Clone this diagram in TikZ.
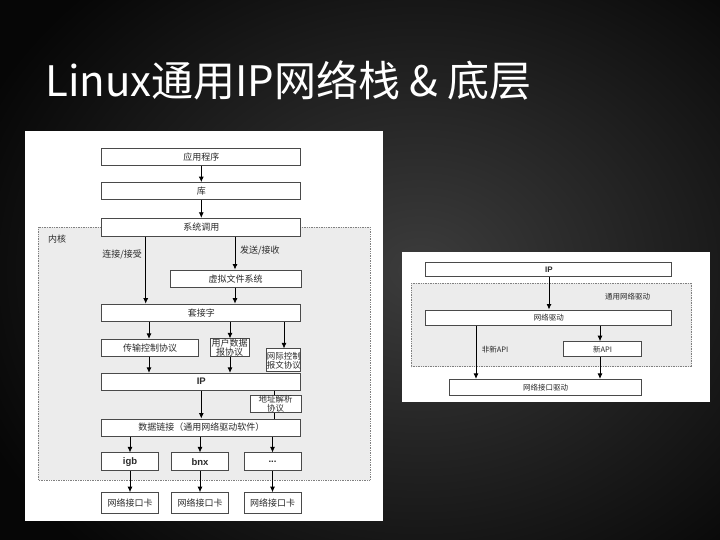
\documentclass[tikz,border=0pt]{standalone}
\usepackage{fontspec}
\setmainfont{Noto Sans CJK SC}
\newfontfamily\latinfont{Liberation Sans}
\usepackage{xcolor}
\usetikzlibrary{arrows.meta}
\definecolor{bgin}{HTML}{3C3C3C}
\definecolor{bgout}{HTML}{060606}
\definecolor{boxline}{HTML}{4A4A4A}
\definecolor{kernfill}{HTML}{ECECEC}
\definecolor{txt}{HTML}{2A2A2A}
\tikzset{
  box/.style={draw=boxline, fill=white, line width=1pt, inner sep=0pt, text=txt,
    align=center, font=\fontsize{9}{9}\selectfont},
  latinbox/.style={box, font=\latinfont\bfseries\fontsize{9.5}{9.5}\selectfont},
  arr/.style={-{Latex[length=5.5pt,width=5pt]}, line width=0.8pt},
  lbl/.style={text=txt, inner sep=0pt, font=\fontsize{9}{9}\selectfont},
  region/.style={draw=gray, densely dotted, fill=kernfill, line width=0.7pt}
}
\begin{document}
\begin{tikzpicture}[x=1pt,y=-1pt]
\useasboundingbox (0,0) rectangle (720,540);
\begin{scope}
\clip (0,0) rectangle (720,540);
\shade[inner color=bgin, outer color=bgout] (-60,-120) rectangle (900,660);
\end{scope}
\node[anchor=base west, text=white, inner sep=0pt, font=\fontsize{42}{42}\selectfont] (title) at (45,97) {Linux通用IP网络栈 \& 底层};

% left panel
\fill[white] (25,131) rectangle (383,521);
\draw[region] (38.3,227.3) rectangle (370,480);
\node[lbl, anchor=west] (kernel) at (48,239) {内核};

\node[box, minimum width=199.3, minimum height=16.7] (app) at (201.3,156.7) {应用程序};
\node[box, minimum width=199.3, minimum height=17.3] (lib) at (201.3,191.3) {库};
\node[box, minimum width=199.3, minimum height=17.7] (syscall) at (201.3,227.2) {系统调用};
\node[box, minimum width=131, minimum height=17.3] (vfs) at (235.5,278.7) {虚拟文件系统};
\node[box, minimum width=199.3, minimum height=17.7] (sock) at (201.3,313) {套接字};
\node[box, minimum width=96.6, minimum height=16.7] (tcp) at (150,347.7) {传输控制协议};
\node[box, minimum width=39, minimum height=16.7, font=\fontsize{9}{7.5}\selectfont] (udp) at (229.5,347.7) {用户数据\\报协议};
\node[box, minimum width=34.3, minimum height=22.7, font=\fontsize{8.5}{9}\selectfont] (icmp) at (283.8,360.3) {网际控制\\报文协议};
\node[latinbox, minimum width=199.3, minimum height=16.7] (ip) at (201.3,381.7) {IP};
\node[box, minimum width=51, minimum height=15.7, font=\fontsize{8.5}{7.5}\selectfont] (arp) at (275.5,403.8) {地址解析\\协议};
\node[box, minimum width=199.3, minimum height=17] (link) at (201.3,427.5) {数据链接（通用网络驱动软件）};
\node[latinbox, minimum width=56.6, minimum height=17.7] (igb) at (130,461.8) {igb};
\node[latinbox, minimum width=56.6, minimum height=17.7] (bnx) at (200,461.8) {bnx};
\node[latinbox, minimum width=57, minimum height=17.7] (etc) at (272.5,461.8) {...};
\node[box, minimum width=56.6, minimum height=20.6] (nicA) at (130,503) {网络接口卡};
\node[box, minimum width=56.6, minimum height=20.6] (nicB) at (200,503) {网络接口卡};
\node[box, minimum width=57, minimum height=20.6] (nicC) at (272.5,503) {网络接口卡};

\coordinate (cConn) at (145.7,0);
\coordinate (cSend) at (235,0);
\coordinate (cTcp) at (149,0);
\coordinate (cUdp) at (230,0);
\coordinate (cIcmp) at (284,0);
\coordinate (cArp) at (274.3,0);

\draw[arr] (app) -- (lib);
\draw[arr] (lib) -- (syscall);
\draw[arr] (syscall.south -| cConn) -- (sock.north -| cConn);
\draw[arr] (syscall.south -| cSend) -- (vfs.north -| cSend);
\draw[arr] (vfs.south -| cSend) -- (sock.north -| cSend);
\node[lbl, anchor=east] (connlbl) at (142,255) {连接/接受};
\node[lbl, anchor=west] (sendlbl) at (240,250.7) {发送/接收};
\draw[arr] (sock.south -| cTcp) -- (tcp.north -| cTcp);
\draw[arr] (sock.south -| cUdp) -- (udp.north -| cUdp);
\draw[arr] (sock.south -| cIcmp) -- (icmp.north -| cIcmp);
\draw[arr] (tcp.south -| cTcp) -- (ip.north -| cTcp);
\draw[arr] (udp.south -| cUdp) -- (ip.north -| cUdp);
\draw[arr] (ip) -- (link);
\draw[line width=0.8pt] (ip.south -| cArp) -- (arp.north -| cArp);
\draw[line width=0.8pt] (arp.south -| cArp) -- (link.north -| cArp);
\draw[arr] (link.south -| igb) -- (igb);
\draw[arr] (link.south -| bnx) -- (bnx);
\draw[arr] (link.south -| etc) -- (etc);
\draw[arr] (igb) -- (nicA);
\draw[arr] (bnx) -- (nicB);
\draw[arr] (etc) -- (nicC);

% right panel
\fill[white] (402,252) rectangle (710,402);
\draw[region] (411,283.3) rectangle (691.7,366.7);
\node[lbl, anchor=west, font=\fontsize{7.5}{7.5}\selectfont] (gendrv) at (605,296.7) {通用网络驱动};
\node[latinbox, minimum width=245.7, minimum height=14.4, font=\latinfont\bfseries\fontsize{8}{8}\selectfont] (ipR) at (548.8,269.5) {IP};
\node[box, minimum width=245.7, minimum height=15, font=\fontsize{7.5}{7.5}\selectfont] (drv) at (548.8,317.5) {网络驱动};
\node[box, minimum width=78.4, minimum height=15, font=\fontsize{7.5}{7.5}\selectfont] (newapi) at (602.5,349.2) {新API};
\node[box, minimum width=192.4, minimum height=15.7, font=\fontsize{7.5}{7.5}\selectfont] (ifdrv) at (545.5,387.2) {网络接口驱动};
\coordinate (cOld) at (476,0);
\coordinate (cNew) at (600,0);
\coordinate (cIpR) at (549,0);
\draw[arr] (ipR.south -| cIpR) -- (drv.north -| cIpR);
\draw[arr] (drv.south -| cNew) -- (newapi.north -| cNew);
\draw[arr] (newapi.south -| cNew) -- (ifdrv.north -| cNew);
\draw[arr] (drv.south -| cOld) -- (ifdrv.north -| cOld);
\node[lbl, anchor=west, font=\fontsize{7.5}{7.5}\selectfont] (oldlbl) at (481.7,349.3) {非新API};
\end{tikzpicture}
\end{document}
